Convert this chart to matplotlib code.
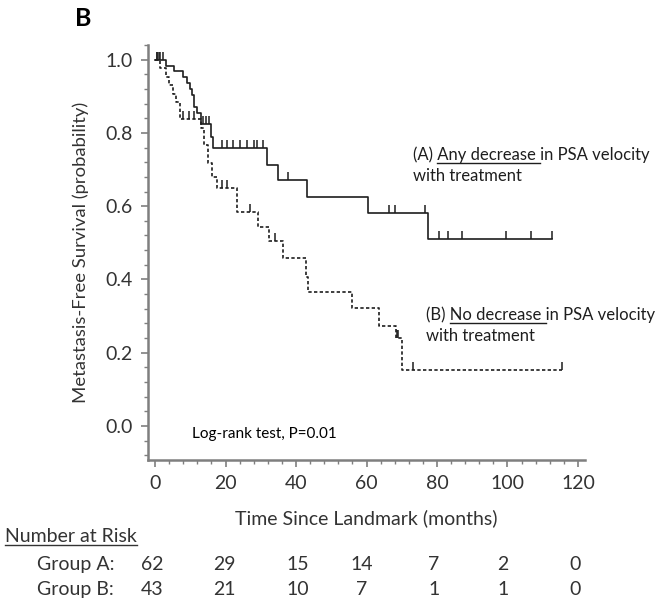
import numpy as np
import matplotlib
matplotlib.use("Agg")
import matplotlib.pyplot as plt
from matplotlib.ticker import MultipleLocator

plt.rcParams['font.family'] = ['Lato', 'DejaVu Sans']

# Group A: any decrease in PSA velocity (solid)
a_event_t = [3.0, 5.5, 8.0, 9.0, 10.0, 10.5, 11.0, 12.0, 13.0, 15.8, 16.5,
             31.8, 34.9, 43.1, 60.4, 77.4]
a_surv = [0.984, 0.968, 0.952, 0.935, 0.919, 0.903, 0.871, 0.855, 0.823, 0.79,
          0.76, 0.713, 0.672, 0.626, 0.582, 0.511]
a_cens = [0.6, 1.4, 2.3, 13.5, 14.5, 15.3, 19.0, 20.5, 22.0, 24.0, 26.0, 28.0,
          29.0, 30.5, 37.7, 66.4, 68.1, 76.6, 80.6, 83.1, 87.1, 99.6, 106.7, 112.6]

# Group B: no decrease in PSA velocity (dashed)
b_event_t = [1.5, 3.0, 4.0, 5.0, 6.0, 7.0, 13.0, 14.0, 15.0, 16.2, 17.6, 23.3,
             29.2, 32.3, 36.3, 42.8, 43.4, 55.9, 63.5, 68.4, 70.1]
b_surv = [0.977, 0.953, 0.930, 0.907, 0.884, 0.837, 0.814, 0.767, 0.719, 0.68,
          0.65, 0.585, 0.544, 0.505, 0.459, 0.407, 0.366, 0.322, 0.273, 0.24, 0.153]
b_cens = [0.5, 1.0, 8.0, 9.5, 11.0, 19.0, 20.4, 27.0, 34.0, 68.6, 69.0, 73.2, 115.5]

risk_groups = ['Group A:', 'Group B:']
risk_a = [62, 29, 15, 14, 7, 2, 0]
risk_b = [43, 21, 10, 7, 1, 1, 0]

W, H = 658, 607
fig = plt.figure(figsize=(W / 100, H / 100), dpi=100)
ax = fig.add_axes([148 / W, 1 - 460 / H, 437 / W, 415 / H])

ink = '#1e1e1e'
txt = '#333333'


def km_xy(times, surv, end):
    x = [0.0] + list(times) + [end]
    y = [1.0] + list(surv) + [surv[-1]]
    return x, y


def surv_at(times, surv, t):
    s = 1.0
    for ti, si in zip(times, surv):
        if ti <= t:
            s = si
    return s


xa, ya = km_xy(a_event_t, a_surv, max(a_cens))
ax.step(xa, ya, where='post', color=ink, lw=1.2)
ax.plot(a_cens, [surv_at(a_event_t, a_surv, t) for t in a_cens],
        ls='none', marker=2, ms=6, mew=1.1, color=ink)

xb, yb = km_xy(b_event_t, b_surv, max(b_cens))
ax.step(xb, yb, where='post', color=ink, lw=1.2, ls=(0, (2.0, 1.4)))
ax.plot(b_cens, [surv_at(b_event_t, b_surv, t) for t in b_cens],
        ls='none', marker=2, ms=6, mew=1.1, color=ink)

ax.set_xlim(-2, 122)
ax.set_ylim(-0.093, 1.04)
ax.xaxis.set_major_locator(MultipleLocator(20))
ax.xaxis.set_minor_locator(MultipleLocator(4))
ax.yaxis.set_major_locator(MultipleLocator(0.2))
ax.yaxis.set_minor_locator(MultipleLocator(0.04))
ax.yaxis.set_major_formatter(matplotlib.ticker.FormatStrFormatter('%.1f'))
for s in ['top', 'right']:
    ax.spines[s].set_visible(False)
for s in ['left', 'bottom']:
    ax.spines[s].set_color('#7f7f7f')
    ax.spines[s].set_linewidth(1.8)
ax.tick_params(which='major', length=5, width=1.2, color='#7f7f7f',
               labelsize=14, labelcolor=txt, pad=6)
ax.tick_params(which='minor', length=3, width=1.0, color='#7f7f7f')

ax.set_xlabel('Time Since Landmark (months)', fontsize=14, color=txt,
              labelpad=12)
ax.set_ylabel('Metastasis-Free Survival (probability)', fontsize=13.3,
              color=txt, labelpad=12)

fig.text(83 / W, 1 - 18 / H, 'B', fontsize=18, fontweight='bold',
         ha='center', va='center', color='black')

fig.canvas.draw()
renderer = fig.canvas.get_renderer()


def text_width(s, **kw):
    t = fig.text(0, 0, s, **kw)
    w = t.get_window_extent(renderer).width
    t.remove()
    return w


def underlined(x, y, pre, und, post, size, color):
    kw = dict(fontsize=size, color=color)
    fig.text(x / W, 1 - y / H, pre + und + post, va='baseline', **kw)
    xw = text_width('x', **kw)
    x0 = x + text_width(pre + 'x', **kw) - xw
    x1 = x + text_width(pre + und + 'x', **kw) - xw
    uy = 1 - (y + 3) / H
    fig.add_artist(plt.Line2D([x0 / W, x1 / W], [uy, uy], color=color,
                              lw=1.0, transform=fig.transFigure))


underlined(413, 160, '(A) ', 'Any decrease ', 'in PSA velocity', 12, ink)
fig.text(413 / W, 1 - 181 / H, 'with treatment', fontsize=12,
         color=ink, va='baseline')
underlined(426, 320, '(B) ', 'No decrease ', 'in PSA velocity', 12, ink)
fig.text(426 / W, 1 - 341 / H, 'with treatment', fontsize=12,
         color=ink, va='baseline')

fig.text(192 / W, 1 - 438 / H, 'Log-rank test, P=0.01', fontsize=11,
         color='black', va='baseline')

# number at risk table
underlined(5, 542, '', 'Number at Risk', '', 14, txt)
risk_x = [152, 224, 298, 362, 434, 503, 575]
for row, (lab, vals) in enumerate(zip(risk_groups, [risk_a, risk_b])):
    yy = 1 - (570 + 25 * row) / H
    fig.text(37 / W, yy, lab, fontsize=14, color=txt, va='baseline')
    for xx, v in zip(risk_x, vals):
        fig.text(xx / W, yy, str(v), fontsize=14, color=txt,
                 ha='center', va='baseline')

fig.savefig('out.png', dpi=100)
